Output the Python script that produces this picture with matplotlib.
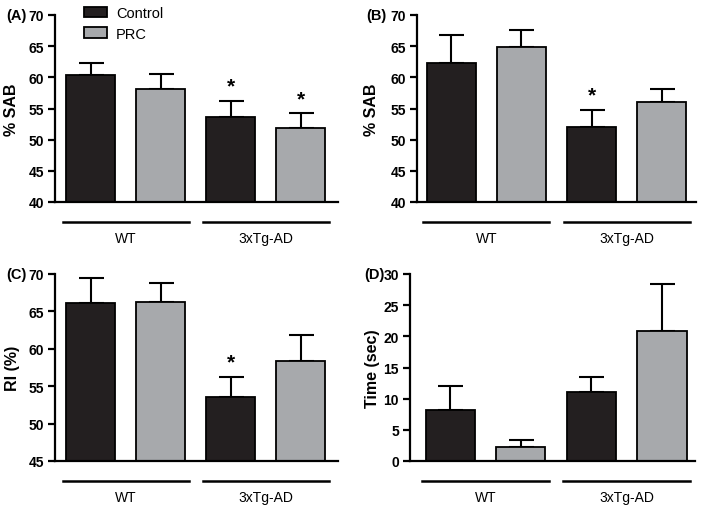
import matplotlib
matplotlib.use("Agg")
import matplotlib.pyplot as plt
from matplotlib.patches import Patch
from matplotlib.transforms import blended_transform_factory

plt.rcParams['font.family'] = ['Liberation Sans', 'DejaVu Sans']

groups = ["WT", "3xTg-AD"]
series = ["Control", "PRC"]

# bars in order: WT Control, WT PRC, 3xTg Control, 3xTg PRC
sab_a_mean = [60.3, 58.2, 53.7, 51.8]
sab_a_sem = [2.0, 2.4, 2.5, 2.4]
sab_a_star = [False, False, True, True]

sab_b_mean = [62.3, 64.8, 52.1, 56.1]
sab_b_sem = [4.5, 2.8, 2.7, 2.1]
sab_b_star = [False, False, True, False]

ri_mean = [66.1, 66.2, 53.5, 58.4]
ri_sem = [3.3, 2.6, 2.7, 3.5]
ri_star = [False, False, True, False]

time_mean = [8.2, 2.2, 11.0, 20.8]
time_sem = [3.8, 1.15, 2.5, 7.6]
time_star = [False, False, False, False]

colors = ["#231f20", "#a7a9ac", "#231f20", "#a7a9ac"]
W, H = 704, 510

fig = plt.figure(figsize=(7.04, 5.10), dpi=100)


def make_panel(rect, mean, sem, star, ylim, ylabel, letter, xlim, ylab_x, letter_xy):
    ax = fig.add_axes([rect[0] / W, 1 - rect[3] / H, (rect[2] - rect[0]) / W, (rect[3] - rect[1]) / H])
    x = list(range(len(mean)))
    ax.bar(x, mean, width=0.7, color=colors, edgecolor="black", linewidth=1.3, zorder=2)
    lower = [0] * len(mean)
    ax.errorbar(x, mean, yerr=[lower, sem], fmt="none", ecolor="black",
                elinewidth=1.5, capsize=9, capthick=1.5, zorder=1)
    for xi, m, s, st in zip(x, mean, sem, star):
        if st:
            ax.annotate("*", (xi, m + s), xytext=(0, 4), textcoords="offset points",
                        ha="center", va="bottom", fontsize=15, fontweight="bold")
    ax.set_ylim(*ylim)
    ax.set_xlim(*xlim)
    ax.set_yticks(range(ylim[0], ylim[1] + 1, 5))
    ax.set_xticks([])
    for s in ["top", "right"]:
        ax.spines[s].set_visible(False)
    for s in ["left", "bottom"]:
        ax.spines[s].set_linewidth(1.6)
    ax.tick_params(axis="y", direction="out", length=5, width=1.6, pad=3, labelsize=10)
    for lab in ax.get_yticklabels():
        lab.set_fontweight("bold")
    ax.set_ylabel(ylabel, fontsize=11.5, fontweight="bold")
    ax.yaxis.set_label_coords(ylab_x, 0.5)

    tr = blended_transform_factory(ax.transData, ax.transAxes)
    for gi, g in enumerate(groups):
        x0 = gi * 2 - 0.4
        ax.plot([x0, x0 + 1.8], [-0.105, -0.105], color="black", lw=1.8,
                transform=tr, clip_on=False)
        ax.text(gi * 2 + 0.5, -0.19, g, transform=tr, ha="center", va="center", fontsize=10)

    fig.text(letter_xy[0] / W, 1 - letter_xy[1] / H, letter, ha="center", va="center",
             fontsize=10.5, fontweight="bold")
    return ax


ax_a = make_panel((55, 16, 338, 203), sab_a_mean, sab_a_sem, sab_a_star, (40, 70), "% SAB",
                  "(A)", (-0.51, 3.53), -0.127, (16, 16))
make_panel((417, 16, 696, 203), sab_b_mean, sab_b_sem, sab_b_star, (40, 70), "% SAB",
           "(B)", (-0.49, 3.49), -0.136, (376, 16))
make_panel((55, 275, 338, 462), ri_mean, ri_sem, ri_star, (45, 70), "RI (%)",
           "(C)", (-0.51, 3.53), -0.124, (16, 275))
make_panel((410, 275, 695, 462), time_mean, time_sem, time_star, (0, 30), "Time (sec)",
           "(D)", (-0.57, 3.47), -0.105, (374, 275))

handles = [Patch(facecolor=colors[i], edgecolor="black", linewidth=1.3) for i in range(2)]
ax_a.legend(handles, series, loc="upper left", bbox_to_anchor=(84 / W, 1 - 7 / H),
            bbox_transform=fig.transFigure, frameon=False, fontsize=10.5,
            borderpad=0, borderaxespad=0, handlelength=1.55, handleheight=0.7,
            handletextpad=0.65, labelspacing=0.45)

fig.savefig("out.png", dpi=100)
